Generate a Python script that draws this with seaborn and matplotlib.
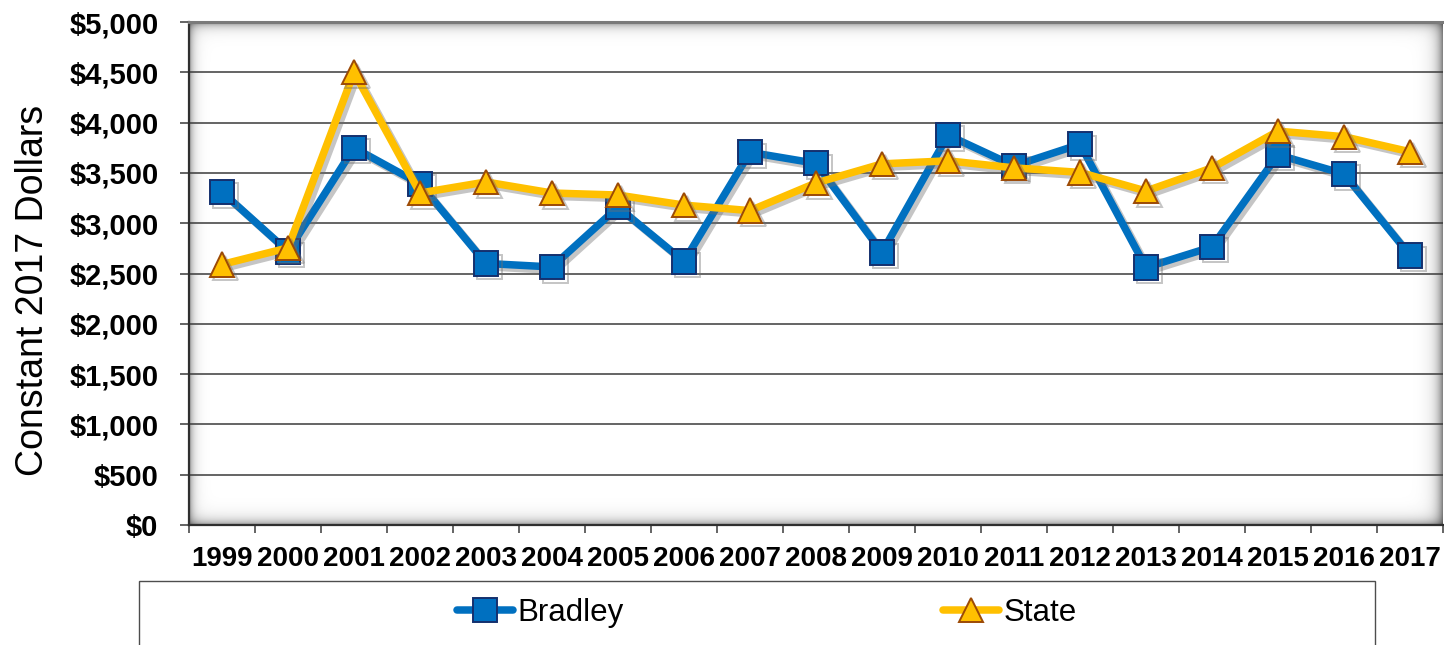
import numpy as np
import pandas as pd
import matplotlib
matplotlib.use("Agg")
import matplotlib.pyplot as plt
import matplotlib.patheffects as pe
from matplotlib.patches import Rectangle
from matplotlib.ticker import StrMethodFormatter, FixedLocator
import seaborn as sns

# Spending per pupil, constant 2017 dollars
years = [1999, 2000, 2001, 2002, 2003, 2004, 2005, 2006, 2007, 2008,
         2009, 2010, 2011, 2012, 2013, 2014, 2015, 2016, 2017]
bradley = [3310, 2720, 3750, 3390, 2600, 2565, 3160, 2620, 3705, 3595,
           2710, 3875, 3570, 3785, 2560, 2765, 3680, 3490, 2680]
state = [2590, 2755, 4500, 3300, 3410, 3300, 3280, 3180, 3125, 3400,
         3590, 3620, 3550, 3505, 3320, 3550, 3915, 3860, 3710]
y_ticks = [0, 500, 1000, 1500, 2000, 2500, 3000, 3500, 4000, 4500, 5000]
series_names = ["Bradley", "State"]

df = pd.DataFrame({"Year": years, "Bradley": bradley, "State": state})

sns.set_theme(style="white")
plt.rcParams["font.family"] = ["Liberation Sans", "DejaVu Sans"]
plt.rcParams["text.color"] = "black"
plt.rcParams["axes.labelcolor"] = "black"
plt.rcParams["xtick.color"] = "black"
plt.rcParams["ytick.color"] = "black"

W, H, DPI = 1444, 645, 100
fig = plt.figure(figsize=(W / DPI, H / DPI), dpi=DPI)
fig.patch.set_facecolor("white")

left_px, right_px, top_px, bot_px = 189, 1443, 22, 525
ax = fig.add_axes([left_px / W, 1 - bot_px / H,
                   (right_px - left_px) / W, (bot_px - top_px) / H])
ax.set_facecolor("white")

# inner shadow of the plot area
pw, ph = right_px - left_px, bot_px - top_px
xx = np.arange(pw)[None, :].astype(float)
yy = np.arange(ph)[:, None].astype(float)
s_top = 0.42 * np.exp(-yy / 5.0)
s_left = 0.40 * np.exp(-xx / 4.5)
s_right = 0.48 * np.exp(-(pw - 1 - xx) / 6.0)
s_bot = 0.38 * np.exp(-(ph - 1 - yy) / 5.5)
shade = (1 - s_top) * (1 - s_left) * (1 - s_right) * (1 - s_bot)
ax.imshow(shade, cmap="gray", vmin=0, vmax=1, extent=(0, 1, 0, 1),
          transform=ax.transAxes, aspect="auto", zorder=0,
          interpolation="bilinear")

shadow = [pe.SimpleLineShadow(offset=(2.5, -2.5), shadow_color="#6f6f6f",
                              alpha=0.4), pe.Normal()]

sns.lineplot(data=df, x="Year", y="Bradley", ax=ax, color="#0070C0",
             linewidth=5.4, marker="s", markersize=17.5,
             markerfacecolor="#0070C0", markeredgecolor="#14306E",
             markeredgewidth=1.4, label="Bradley", zorder=3,
             path_effects=shadow, legend=False)
sns.lineplot(data=df, x="Year", y="State", ax=ax, color="#FFC000",
             linewidth=5.4, marker="^", markersize=17.5,
             markerfacecolor="#FFC000", markeredgecolor="#9C4A06",
             markeredgewidth=1.4, label="State", zorder=4,
             path_effects=shadow, legend=False)

ax.set_xlim(years[0] - 0.5, years[-1] + 0.5)
ax.set_ylim(0, 5000)

# y axis
ax.yaxis.set_major_locator(FixedLocator(y_ticks))
ax.yaxis.set_major_formatter(StrMethodFormatter("${x:,.0f}"))
ax.grid(axis="y", color="#3a3a3a", linewidth=1.1, zorder=1)
ax.grid(axis="x", visible=False)
ax.set_axisbelow(True)
ax.tick_params(axis="y", which="major", left=True, length=6.5, width=1.1,
               color="#3a3a3a", direction="out", pad=15.5,
               labelsize=21, labelcolor="black")
for lab in ax.get_yticklabels():
    lab.set_fontweight("bold")

# x axis: labels at the year centres, tick marks between years
ax.set_xticks(years)
ax.set_xticklabels([str(y) for y in years], fontweight="bold")
ax.set_xticks([y - 0.5 for y in years] + [years[-1] + 0.5], minor=True)
ax.tick_params(axis="x", which="major", bottom=True, length=0, pad=15,
               labelsize=20, labelcolor="black")
ax.tick_params(axis="x", which="minor", bottom=True, length=6, width=1.1,
               color="#3a3a3a", direction="out")

ax.set_xlabel("")
ax.set_ylabel("Constant 2017 Dollars", fontsize=27, color="black")
ax.yaxis.set_label_coords((51 - left_px) / pw, (bot_px - 290) / ph)

for side in ["left", "bottom"]:
    ax.spines[side].set_color("#2f2f2f")
    ax.spines[side].set_linewidth(1.6)
ax.spines["top"].set_color("#7a7a7a")
ax.spines["top"].set_linewidth(2.2)
ax.spines["right"].set_visible(False)

# legend panel
fig.patches.append(Rectangle((139 / W, -0.05), (1375 - 139) / W,
                             1 - 581 / H + 0.05, transform=fig.transFigure,
                             facecolor="white", edgecolor="#4d4d4d",
                             linewidth=1.0, zorder=0))
handles = [h for h in ax.get_lines() if h.get_label() in series_names]
leg = fig.legend(handles=handles, labels=series_names, loc="center",
                 bbox_to_anchor=(767 / W, 1 - 613 / H), ncol=2,
                 frameon=False, fontsize=22.5, handlelength=1.8,
                 handletextpad=0.15, columnspacing=10.2, numpoints=1)
for h in leg.legend_handles:
    h.set_path_effects([])
for t in leg.get_texts():
    t.set_color("black")

fig.savefig("out.png", dpi=DPI, facecolor="white")
